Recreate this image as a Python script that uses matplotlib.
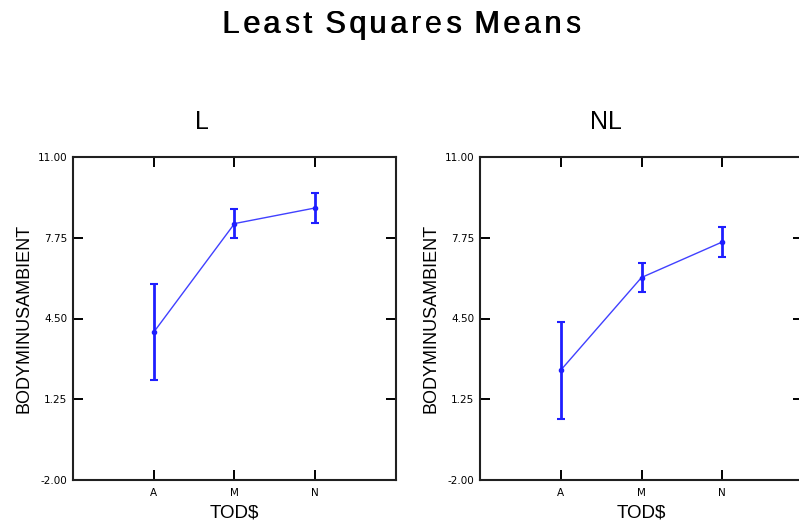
import matplotlib
matplotlib.use("Agg")
import matplotlib.pyplot as plt
import numpy as np

# LEAST SQUARES MEANS DATA
groups = ["A", "M", "N"]
panels = ["L", "NL"]
means_L = [3.95, 8.32, 8.95]
err_L = [1.93, 0.60, 0.60]
means_NL = [2.42, 6.15, 7.58]
err_NL = [1.95, 0.60, 0.60]
yticks = [-2.00, 1.25, 4.50, 7.75, 11.00]
title = "Least Squares Means"

blue = "#1f1fff"
W, H = 799, 525

fig = plt.figure(figsize=(W / 100, H / 100), dpi=100)
renderer = fig.canvas.get_renderer()

# TITLE WITH LETTER SPACING (draw char by char, spread over 222..580 px)
tkw = dict(fontsize=22, family="Liberation Sans", va="center")
space_w = 6.0
widths = []
for ch in title:
    if ch == " ":
        widths.append(space_w)
        continue
    t = fig.text(0, 0, ch, **tkw)
    widths.append(t.get_window_extent(renderer).width)
    t.remove()
gap = (358 - sum(widths)) / (len(title) - 1)
x = 222
for ch, w in zip(title, widths):
    if ch != " ":
        fig.text(x / W, 1 - 25 / H, ch, ha="left", **tkw)
        fig.text(x / W + 0.6 / W, 1 - 25 / H, ch, ha="left", **tkw)  # faux semibold
    x += w + gap

ax_pos = [[73 / W, 45 / H, 323 / W, 323 / H],
          [480 / W, 45 / H, 323 / W, 323 / H]]
title_x = [202, 606]
data = [(means_L, err_L), (means_NL, err_NL)]

for k, (m, e) in enumerate(data):
    ax = fig.add_axes(ax_pos[k])
    xs = np.arange(1, len(groups) + 1)
    ax.plot(xs, m, color=blue, lw=1.0, alpha=0.85)
    ax.errorbar(xs, m, yerr=e, fmt="none", ecolor=blue, elinewidth=2,
                capsize=3, capthick=1.5)
    ax.plot(xs, m, "o", color=blue, ms=3)
    ax.set_xlim(0, 4)
    ax.set_ylim(-2, 11)
    ax.set_xticks(xs)
    ax.set_xticklabels(groups, fontsize=7.5, family="DejaVu Sans")
    ax.set_yticks(yticks)
    ax.set_yticklabels(["%.2f" % v for v in yticks], fontsize=7.5,
                       family="DejaVu Sans")
    ax.tick_params(axis="both", direction="in", length=7, width=1.4,
                   top=True, right=True)
    ax.tick_params(axis="y", pad=4)
    ax.tick_params(axis="x", pad=6)
    for s in ax.spines.values():
        s.set_linewidth(1.5)
        s.set_color("#202020")
    ax.set_xlabel("TOD$", fontsize=13.5, family="Liberation Sans", labelpad=4.5)
    ax.set_ylabel("BODYMINUSAMBIENT", fontsize=13, family="Liberation Sans",
                  labelpad=4)
    fig.text(title_x[k] / W, 1 - 122 / H, panels[k], ha="center",
             va="center", fontsize=18, family="Liberation Sans")

plt.savefig("out.png", dpi=100)
